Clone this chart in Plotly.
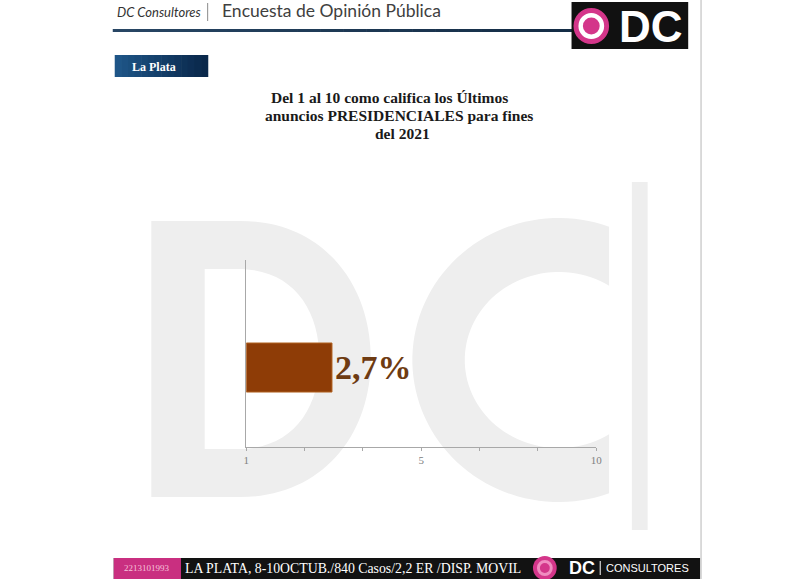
import numpy as np
import plotly.graph_objects as go

W, H = 800, 579

# ---------------- data ----------------
categories = ["Calificación anuncios presidenciales"]
bar_length = [1.47]          # bar length in axis units (axis: 6 equal steps labelled 1 ... 10)
value_labels = ["2,7%"]
tick_positions = [0, 1, 2, 3, 4, 5, 6]
tick_labels = ["1", "", "", "5", "", "", "10"]

title_lines = ["Del 1 al 10 como califica los Últimos",
               "anuncios PRESIDENCIALES para fines",
               "del 2021"]
header_brand = "DC Consultores"
header_title = "Encuesta de Opinión Pública"
region_label = "La Plata"
footer_phone = "2213101993"
footer_text = "LA PLATA, 8-10OCTUB./840 Casos/2,2 ER /DISP. MOVIL"
footer_brand = "CONSULTORES"


# ---------------- helpers (pixel -> paper) ----------------
def X(x):
    return x / W


def Y(y):
    return 1 - y / H


def P(x, y):
    return f"{X(x):.5f},{Y(y):.5f}"


def rect(x0, y0, x1, y1, color, layer="below"):
    return dict(type="rect", xref="paper", yref="paper",
                x0=X(x0), x1=X(x1), y0=Y(y1), y1=Y(y0),
                fillcolor=color, line_width=0, layer=layer)


def circle(cx, cy, r, color, layer="above"):
    return dict(type="circle", xref="paper", yref="paper",
                x0=X(cx - r), x1=X(cx + r), y0=Y(cy + r), y1=Y(cy - r),
                fillcolor=color, line_width=0, layer=layer)


def line(x0, y0, x1, y1, color, width):
    return dict(type="line", xref="paper", yref="paper",
                x0=X(x0), x1=X(x1), y0=Y(y0), y1=Y(y1),
                line=dict(color=color, width=width), layer="above")


def gradient(x0, y0, x1, y1, c0, c1, n=12):
    out = []
    c0 = np.array(c0, float)
    c1 = np.array(c1, float)
    step = (x1 - x0) / n
    for i in range(n):
        c = c0 + (c1 - c0) * (i / (n - 1))
        col = "rgb(%d,%d,%d)" % tuple(c.astype(int))
        out.append(rect(x0 + i * step, y0, x0 + (i + 1) * step + 0.6, y1, col, layer="above"))
    return out


WM = "#eeeeee"
shapes = []

# ---------------- watermark "DC|" ----------------
d_path = ("M " + P(150, 221) + " L " + P(240, 221) +
          " C " + P(322, 221) + " " + P(372, 282) + " " + P(372, 359) +
          " C " + P(372, 436) + " " + P(322, 497) + " " + P(240, 497) +
          " L " + P(150, 497) + " Z" +
          " M " + P(204, 269) + " L " + P(204, 449) + " L " + P(238, 449) +
          " C " + P(292, 449) + " " + P(320, 410) + " " + P(320, 359) +
          " C " + P(320, 308) + " " + P(292, 269) + " " + P(238, 269) + " Z")
shapes.append(dict(type="path", xref="paper", yref="paper", path=d_path,
                   fillcolor=WM, line_width=0, layer="below"))

cx, cy = 562, 360
rxo, ryo, rxi, ryi = 148, 142, 95, 88
tip = 613
t0 = np.arccos((tip - cx) / rxo)
t1 = np.arccos((tip - cx) / rxi)
to = np.linspace(t0, 2 * np.pi - t0, 80)
ti = np.linspace(2 * np.pi - t1, t1, 80)
pts = [(cx + rxo * np.cos(t), cy - ryo * np.sin(t)) for t in to] + \
      [(cx + rxi * np.cos(t), cy - ryi * np.sin(t)) for t in ti]
c_path = "M " + " L ".join(P(a, b) for a, b in pts) + " Z"
shapes.append(dict(type="path", xref="paper", yref="paper", path=c_path,
                   fillcolor=WM, line_width=0, layer="below"))
shapes.append(rect(636, 182, 652, 530, WM))

# ---------------- header ----------------
shapes.append(line(207, 3, 207, 21, "#8a8a8a", 1))
shapes += gradient(111, 29, 577, 32, (40, 70, 100), (20, 45, 70), n=20)
shapes.append(rect(575, 2, 693, 49, "#111111", layer="above"))
shapes.append(circle(595, 26, 18, "#d4368a"))
shapes.append(circle(595, 26, 13, "#ffffff"))
shapes.append(circle(595, 26, 8.5, "#d4368a"))

# region tag
shapes += gradient(113, 55, 207, 77, (30, 85, 135), (10, 40, 75), n=14)

# right border
shapes.append(line(706, 0, 706, H, "#cfcfcf", 1.5))

# ---------------- footer ----------------
shapes.append(rect(112, 558, 705, 579, "#121212", layer="above"))
shapes.append(rect(112, 558, 180, 579, "#c92f80", layer="above"))
shapes.append(circle(548, 568, 12, "#d4368a"))
shapes.append(circle(548, 568, 8, "#f08cc0"))
shapes.append(circle(548, 568, 5, "#d4368a"))
shapes.append(line(604, 561, 604, 575, "#ffffff", 1))

# ---------------- chart ----------------
fig = go.Figure()
fig.add_trace(go.Bar(
    y=categories, x=bar_length, orientation="h", width=0.6,
    marker=dict(color="#8e3c06", line=dict(color="#b0601e", width=1)),
    text=value_labels, textposition="outside", cliponaxis=False,
    textfont=dict(family="Liberation Serif", size=34, color="#6e3b12", weight="bold"),
    hoverinfo="skip", showlegend=False,
))

serif = "Liberation Serif"
ann = []
ann.append(dict(text="<i>" + header_brand + "</i>", x=X(113), y=Y(12), xanchor="left", yanchor="middle",
                font=dict(family="Lato", size=13, color="#333333")))
ann.append(dict(text=header_title, x=X(219), y=Y(11), xanchor="left", yanchor="middle",
                font=dict(family="Lato", size=17.5, color="#404040")))
ann.append(dict(text="<b>DC</b>", x=X(655), y=Y(27), xanchor="center", yanchor="middle",
                font=dict(family="Liberation Sans", size=44, color="#ffffff")))
ann.append(dict(text="<b>" + region_label + "</b>", x=X(128), y=Y(67), xanchor="left", yanchor="middle",
                font=dict(family=serif, size=12, color="#ffffff")))
for txt, xc, yc in zip(title_lines, [391, 400, 404], [98, 116, 133]):
    ann.append(dict(text="<b>" + txt + "</b>", x=X(xc), y=Y(yc), xanchor="center", yanchor="middle",
                    font=dict(family=serif, size=15.5, color="#1a1a1a")))
ann.append(dict(text=footer_phone, x=X(146), y=Y(568), xanchor="center", yanchor="middle",
                font=dict(family=serif, size=9, color="#f7c3dc")))
ann.append(dict(text=footer_text, x=X(182), y=Y(568), xanchor="left", yanchor="middle",
                font=dict(family=serif, size=13.8, color="#ffffff")))
ann.append(dict(text="<b>DC</b>", x=X(586), y=Y(568), xanchor="center", yanchor="middle",
                font=dict(family="Liberation Sans", size=18, color="#ffffff")))
ann.append(dict(text=footer_brand, x=X(608), y=Y(568), xanchor="left", yanchor="middle",
                font=dict(family="Liberation Sans", size=11, color="#ffffff")))
for a in ann:
    a.update(xref="paper", yref="paper", showarrow=False)

fig.update_layout(
    width=W, height=H, autosize=False,
    margin=dict(l=0, r=0, t=0, b=0),
    paper_bgcolor="#ffffff", plot_bgcolor="rgba(0,0,0,0)",
    shapes=shapes, annotations=ann, showlegend=False,
    xaxis=dict(domain=[X(246), X(600)], range=[0, 6],
               tickmode="array", tickvals=tick_positions, ticktext=tick_labels,
               ticks="outside", ticklen=3, tickcolor="#a8a8a8",
               showline=True, linecolor="#a8a8a8", linewidth=1,
               showgrid=False, zeroline=False,
               tickfont=dict(family=serif, size=11, color="#808080")),
    yaxis=dict(domain=[Y(447), Y(260)], type="category", range=[-0.973, 1.316],
               showticklabels=False, ticks="", showline=True, linecolor="#a8a8a8",
               linewidth=1, showgrid=False, zeroline=False),
)

fig.write_html(
    "out.html",
    config={"displayModeBar": False, "responsive": False},
    default_width="800px", default_height="579px",
    post_script=("document.body.style.margin='0';document.body.style.overflow='hidden';"
                 "var gd=document.getElementById('{plot_id}');"
                 "Plotly.relayout(gd,{width:800,height:579});"),
)
